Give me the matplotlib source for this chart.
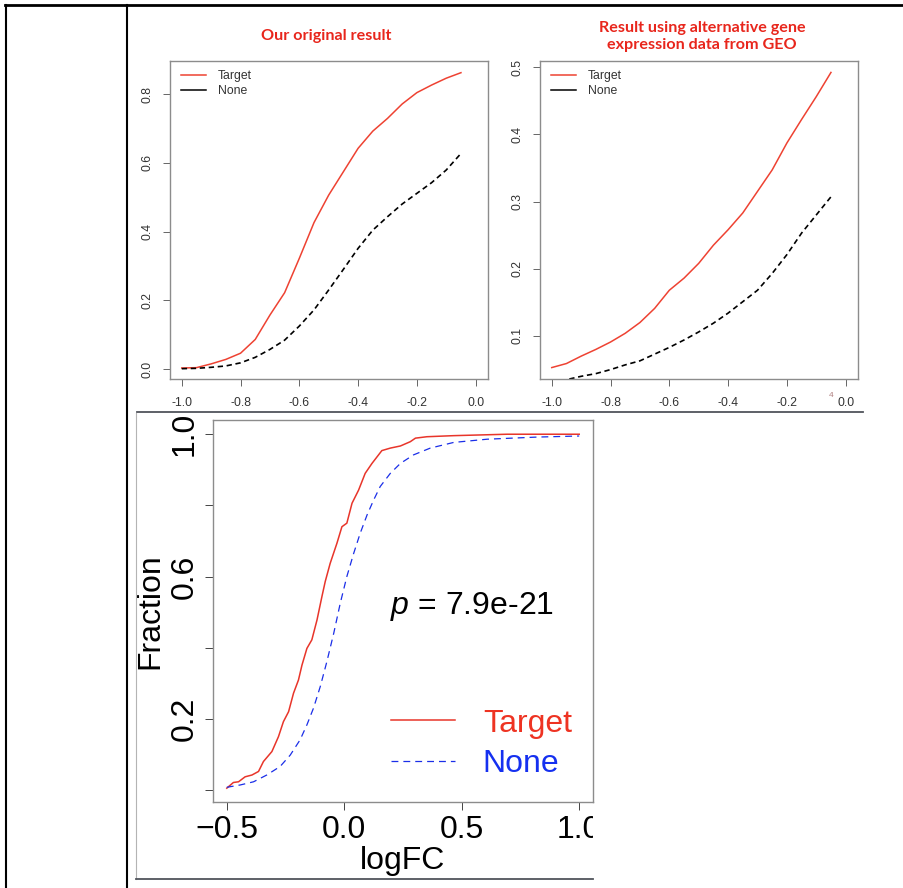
import matplotlib
matplotlib.use("Agg")
import matplotlib.pyplot as plt
from matplotlib.lines import Line2D
from matplotlib.transforms import Bbox, TransformedBbox

W, H = 904, 888

# top panels share the same x grid (logFC cut-off)
top_x = [-1.0, -0.95, -0.9, -0.85, -0.8, -0.75, -0.7, -0.65, -0.6, -0.55,
         -0.5, -0.45, -0.4, -0.35, -0.3, -0.25, -0.2, -0.15, -0.1, -0.05]
top_xticks = [-1.0, -0.8, -0.6, -0.4, -0.2, 0.0]
top_xticklabels = ["-1.0", "-0.8", "-0.6", "-0.4", "-0.2", "0.0"]

# "Our original result"
orig_target = [0.003, 0.004, 0.015, 0.028, 0.046, 0.086, 0.157, 0.222, 0.322, 0.426,
               0.506, 0.574, 0.642, 0.692, 0.729, 0.771, 0.804, 0.826, 0.846, 0.862]
orig_none = [0.001, 0.002, 0.005, 0.009, 0.018, 0.034, 0.057, 0.084, 0.125, 0.172,
             0.230, 0.290, 0.351, 0.404, 0.443, 0.480, 0.511, 0.542, 0.579, 0.627]
orig_yticks = [0.0, 0.2, 0.4, 0.6, 0.8]
orig_yticklabels = ["0.0", "0.2", "0.4", "0.6", "0.8"]

# "Result using alternative gene expression data from GEO"
geo_target = [0.053, 0.059, 0.070, 0.080, 0.091, 0.104, 0.120, 0.141, 0.168, 0.186,
              0.208, 0.235, 0.258, 0.283, 0.315, 0.347, 0.387, 0.422, 0.456, 0.492]
geo_none = [0.030, 0.035, 0.040, 0.044, 0.050, 0.057, 0.063, 0.073, 0.083, 0.094,
            0.106, 0.119, 0.134, 0.151, 0.168, 0.193, 0.221, 0.253, 0.280, 0.307]
geo_yticks = [0.1, 0.2, 0.3, 0.4, 0.5]
geo_yticklabels = ["0.1", "0.2", "0.3", "0.4", "0.5"]

# bottom panel: cumulative fraction vs logFC
cdf_target_x = [-0.5, -0.472, -0.45, -0.422, -0.393, -0.365, -0.344, -0.308, -0.28,
                -0.259, -0.237, -0.216, -0.195, -0.18, -0.159, -0.138, -0.116, -0.095,
                -0.081, -0.06, -0.031, -0.01, 0.011, 0.033, 0.061, 0.089, 0.118, 0.16,
                0.196, 0.239, 0.281, 0.303, 0.352, 0.466, 0.693, 1.0]
cdf_target_y = [0.005, 0.021, 0.023, 0.037, 0.042, 0.052, 0.08, 0.108, 0.15, 0.192,
                0.22, 0.272, 0.309, 0.351, 0.398, 0.422, 0.478, 0.544, 0.586, 0.637,
                0.694, 0.74, 0.75, 0.806, 0.843, 0.89, 0.918, 0.954, 0.961, 0.967,
                0.979, 0.989, 0.993, 0.996, 1.0, 1.0]
cdf_none_x = [-0.5, -0.443, -0.386, -0.33, -0.273, -0.23, -0.188, -0.159, -0.131, -0.102,
              -0.074, -0.045, -0.017, 0.011, 0.04, 0.068, 0.097, 0.125, 0.153, 0.196,
              0.239, 0.295, 0.366, 0.466, 0.608, 0.821, 1.0]
cdf_none_y = [0.0075, 0.014, 0.023, 0.042, 0.066, 0.098, 0.141, 0.183, 0.23, 0.291,
              0.361, 0.44, 0.525, 0.6, 0.665, 0.722, 0.773, 0.815, 0.853, 0.89,
              0.918, 0.942, 0.961, 0.977, 0.986, 0.992, 0.995]
cdf_xticks = [-0.5, 0.0, 0.5, 1.0]
cdf_xticklabels = ["\u22120.5", "0.0", "0.5", "1.0"]
cdf_yticks = [0.0, 0.2, 0.4, 0.6, 0.8, 1.0]
cdf_yticklabels = ["", "0.2", "", "0.6", "", "1.0"]
p_label = "$p$ = 7.9e-21"

TITLE_RED = "#E8261C"
LINE_RED = "#EE4232"

plt.rcParams["font.family"] = ["Liberation Sans", "DejaVu Sans"]
plt.rcParams["mathtext.fontset"] = "custom"
plt.rcParams["mathtext.it"] = "Liberation Sans:italic"
plt.rcParams["mathtext.rm"] = "Liberation Sans"


def px_rect(x0, y0, x1, y1):
    """Pixel box (top-left origin) -> figure fraction rect."""
    return [x0 / W, 1 - y1 / H, (x1 - x0) / W, (y1 - y0) / H]


def add_line(fig, xs, ys, **kw):
    fig.add_artist(Line2D([x / W for x in xs], [1 - y / H for y in ys],
                          transform=fig.transFigure, **kw))


def small_panel(fig, rect, target, none, ylim, yticks, yticklabels):
    ax = fig.add_axes(px_rect(*rect))
    ax.plot(top_x, target, color=LINE_RED, lw=1.1)
    ax.plot(top_x, none, color="black", lw=1.2, dashes=(3.2, 2.2))
    ax.set_xlim(-1.04, 0.042)
    ax.set_ylim(*ylim)
    ax.set_xticks(top_xticks)
    ax.set_xticklabels(top_xticklabels)
    ax.set_yticks(yticks)
    ax.set_yticklabels(yticklabels, rotation=90, va="center")
    ax.tick_params(length=5, width=0.7, color="#666666", labelsize=8.7,
                   labelcolor="#333333")
    ax.tick_params(axis="x", pad=8)
    ax.tick_params(axis="y", pad=7)
    for sp in ax.spines.values():
        sp.set_color("#8c8c8c")
        sp.set_linewidth(1.0)
    handles = [Line2D([], [], color=LINE_RED, lw=1.1),
               Line2D([], [], color="black", lw=1.1)]
    ax.legend(handles, ["Target", "None"], loc="upper left", frameon=False,
              fontsize=8.8, handlelength=2.0, handletextpad=1.0,
              labelspacing=0.25, borderaxespad=0, borderpad=0,
              bbox_to_anchor=(0.035, 0.972), labelcolor="#333333")
    return ax


fig = plt.figure(figsize=(W / 100, H / 100), dpi=100)

# table borders of the page
add_line(fig, [5, W], [5.5, 5.5], color="black", lw=2.0)
add_line(fig, [6, 6], [5, H], color="black", lw=1.5)
add_line(fig, [127, 127], [5, H], color="black", lw=1.5)
add_line(fig, [137, 863], [412.5, 412.5], color="#50545c", lw=1.3)
add_line(fig, [136.5, 136.5], [413, 879], color="#b4b4b4", lw=0.8)
add_line(fig, [136, 593], [879, 879], color="#50545c", lw=1.3)

small_panel(fig, (170, 61, 488, 379), orig_target, orig_none,
            (-0.029, 0.896), orig_yticks, orig_yticklabels)
fig.text(326 / W, 1 - 36 / H, "Our original result", color=TITLE_RED,
         family="Lato", weight="bold", fontsize=11.6, ha="center", va="center")

small_panel(fig, (540, 61, 858, 379), geo_target, geo_none,
            (0.036, 0.509), geo_yticks, geo_yticklabels)
fig.text(702 / W, 1 - 36.5 / H, "Result using alternative gene\nexpression data from GEO",
         color=TITLE_RED, family="Lato", weight="bold", fontsize=11.6,
         ha="center", va="center", linespacing=1.32)
fig.text(831.5 / W, 1 - 395 / H, "4", color="#b08080", fontsize=6,
         ha="center", va="center")

# bottom panel, cropped like the pasted image
ax = fig.add_axes(px_rect(212.7, 420, 593.3, 801.7))
ax.plot(cdf_target_x, cdf_target_y, color="#E8352A", lw=1.1)
ax.plot(cdf_none_x, cdf_none_y, color="#1A2EE8", lw=0.9, dashes=(5.5, 4))
ax.set_xlim(-0.56, 1.06)
ax.set_ylim(-0.033, 1.040)
ax.set_xticks(cdf_xticks)
ax.set_xticklabels(cdf_xticklabels)
ax.set_yticks(cdf_yticks)
ax.set_yticklabels(cdf_yticklabels, rotation=90, va="center")
ax.tick_params(length=5.5, width=0.7, color="#444444", labelsize=23)
ax.tick_params(axis="x", pad=4)
ax.tick_params(axis="y", pad=4)
for sp in ax.spines.values():
    sp.set_color("#8c8c8c")
    sp.set_linewidth(1.0)
ax.set_xlabel("logFC", fontsize=23, labelpad=1)
ax.set_ylabel("Fraction", fontsize=23, labelpad=3)
ax.text(0.545, 0.515, p_label, fontsize=23, ha="center", va="center")
handles = [Line2D([], [], color="#E8352A", lw=1.1),
           Line2D([], [], color="#1A2EE8", lw=0.9, dashes=(5.5, 4))]
ax.legend(handles, ["Target", "None"], loc="lower left", frameon=False,
          fontsize=23, handlelength=2.0, handletextpad=0.88, labelspacing=0.32,
          borderaxespad=0, borderpad=0, bbox_to_anchor=(0.468, 0.06),
          labelcolor=["#EE3322", "#1530F0"])

clip = TransformedBbox(Bbox([[136 / W, 1 - 879 / H], [593 / W, 1 - 413 / H]]),
                       fig.transFigure)
for t in ax.get_xticklabels() + ax.get_yticklabels() + [ax.xaxis.label, ax.yaxis.label]:
    t.set_clip_box(clip)
    t.set_clip_on(True)

fig.savefig("out.png", dpi=100)
